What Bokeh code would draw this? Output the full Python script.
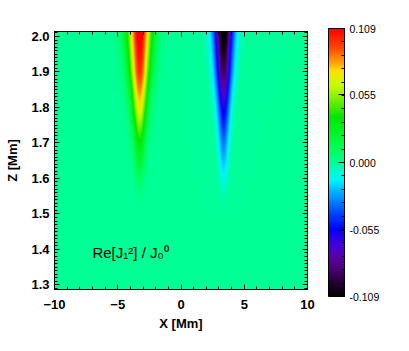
import numpy as np
from bokeh.plotting import figure
from bokeh.models import (Range1d, LinearAxis, SingleIntervalTicker, PrintfTickFormatter,
                          LinearColorMapper, ColorBar, FixedTicker, Label, CustomJSTickFormatter)
from bokeh.embed import file_html
from bokeh.resources import INLINE

# ---------------- data ----------------
x_extent = [-10.0, 10.0]
z_extent = [1.287, 2.014]
cbar_ticks = [-0.109, -0.055, 0.0, 0.055, 0.109]
cbar_limits = [-0.109, 0.109]

pos_center = -3.28          # Mm, positive (red) lobe
neg_center = 3.37           # Mm, negative (black) lobe
z_knots = [1.287, 1.50, 1.55, 1.60, 1.70, 1.80, 1.90, 2.00, 2.014]
pos_amp = [0.0, 0.0, 0.002, 0.010, 0.035, 0.072, 0.100, 0.114, 0.116]
neg_amp = [0.0, 0.0, -0.003, -0.012, -0.033, -0.060, -0.092, -0.114, -0.116]
pos_width = [0.15, 0.24, 0.30, 0.38, 0.46, 0.58, 0.76, 0.90, 0.92]
neg_width = [0.12, 0.20, 0.26, 0.33, 0.40, 0.50, 0.62, 0.72, 0.74]
profile_power = 1.8

# ---------------- field ----------------
nx, nz = 500, 360
xs = np.linspace(x_extent[0], x_extent[1], nx)
zs = np.linspace(z_extent[0], z_extent[1], nz)
X, Z = np.meshgrid(xs, zs)
A_p = np.interp(Z, z_knots, pos_amp)
A_n = np.interp(Z, z_knots, neg_amp)
W_p = np.interp(Z, z_knots, pos_width)
W_n = np.interp(Z, z_knots, neg_width)
field = (A_p * np.exp(-(np.abs(X - pos_center) / W_p) ** profile_power)
         + A_n * np.exp(-(np.abs(X - neg_center) / W_n) ** profile_power))

# ---------------- colour table (IDL-like rainbow) ----------------
anchors = [
    (0.000, 0, 0, 0), (0.050, 35, 0, 50), (0.100, 75, 0, 115), (0.150, 90, 0, 170),
    (0.200, 60, 0, 225), (0.250, 0, 0, 255), (0.310, 0, 70, 255), (0.385, 0, 170, 255),
    (0.435, 0, 245, 255), (0.500, 0, 255, 150), (0.540, 0, 255, 100), (0.610, 0, 245, 40),
    (0.670, 0, 230, 0), (0.735, 120, 240, 0), (0.790, 200, 250, 0), (0.845, 255, 225, 0),
    (0.880, 255, 150, 0), (0.930, 255, 70, 0), (1.000, 255, 0, 0)]
af = [a[0] for a in anchors]
t = np.linspace(0, 1, 256)
rr = np.interp(t, af, [a[1] for a in anchors])
gg = np.interp(t, af, [a[2] for a in anchors])
bb = np.interp(t, af, [a[3] for a in anchors])
palette = ["#%02x%02x%02x" % (int(round(r)), int(round(g)), int(round(b))) for r, g, b in zip(rr, gg, bb)]
mapper = LinearColorMapper(palette=palette, low=cbar_limits[0], high=cbar_limits[1])

# ---------------- figure ----------------
FW, FH = 253, 258
p = figure(frame_width=FW, frame_height=FH, x_range=Range1d(*x_extent), y_range=Range1d(*z_extent),
           output_backend="svg", toolbar_location=None,
           min_border_left=54, min_border_right=102, min_border_top=31, min_border_bottom=62,
           x_axis_label="X [Mm]", y_axis_label="Z [Mm]")
p.grid.visible = False
p.outline_line_color = "black"
p.outline_line_width = 1
p.background_fill_color = "white"

p.image(image=[field], x=x_extent[0], y=z_extent[0], dw=x_extent[1] - x_extent[0],
        dh=z_extent[1] - z_extent[0], color_mapper=mapper)

font = "Liberation Sans"
for ax in p.xaxis:
    ax.ticker = SingleIntervalTicker(interval=5, num_minor_ticks=5)
for ax in p.yaxis:
    ax.ticker = SingleIntervalTicker(interval=0.1, num_minor_ticks=10)
    ax.formatter = PrintfTickFormatter(format="%.1f")


def style(ax, show):
    ax.major_tick_in = 5
    ax.major_tick_out = 0
    ax.minor_tick_in = 3
    ax.minor_tick_out = 0
    ax.axis_line_color = "black"
    ax.major_tick_line_color = "black"
    ax.minor_tick_line_color = "black"
    ax.major_label_text_font = font
    ax.major_label_text_font_style = "bold"
    ax.major_label_text_color = "black"
    ax.major_label_text_font_size = "13px"
    ax.axis_label_text_font = font
    ax.axis_label_text_font_style = "bold"
    ax.axis_label_text_font_size = "13px"
    ax.axis_label_text_color = "black"
    if not show:
        ax.formatter = CustomJSTickFormatter(code="return ''")
        ax.major_label_standoff = 0


style(p.xaxis[0], True)
style(p.yaxis[0], True)
p.xaxis[0].major_label_standoff = 10
p.xaxis[0].axis_label_standoff = 4
p.yaxis[0].major_label_standoff = 5
p.yaxis[0].axis_label_standoff = 8

top = LinearAxis(ticker=SingleIntervalTicker(interval=5, num_minor_ticks=5))
right = LinearAxis(ticker=SingleIntervalTicker(interval=0.1, num_minor_ticks=10))
style(top, False)
style(right, False)
p.add_layout(top, "above")
p.add_layout(right, "right")

# annotation inside the plot
p.add_layout(Label(x=-7.0, y=1.39, text="Re[J\u2081\u00b2] / J\u2080\u2070", text_font=font,
                   text_font_size="15px", text_color="black", text_baseline="alphabetic"))

# colour bar
minor = [round(cbar_limits[0] + 0.0109 * k, 4) for k in range(21)]
cb = ColorBar(color_mapper=mapper, ticker=FixedTicker(ticks=cbar_ticks, minor_ticks=minor),
              formatter=PrintfTickFormatter(format="%.3f"), width=16, height=268,
              location=(FW + 21, -7), padding=0, margin=0, label_standoff=5,
              major_label_text_font=font, major_label_text_font_size="10.5px",
              major_label_text_color="black",
              bar_line_color="black", major_tick_line_color="black", minor_tick_line_color="black",
              major_tick_in=6, minor_tick_in=3, background_fill_alpha=0, border_line_color=None)
p.add_layout(cb)

p.add_layout(Label(x=FW + 86, y=FH / 2 - 2, x_units="screen", y_units="screen",
                   text="Re[J\u2081\u00b2] / J\u2080\u2070", angle=np.pi / 2,
                   text_align="center", text_baseline="middle", text_font=font,
                   text_font_size="11px", text_color="black"))

open("out.html", "w").write(file_html(p, INLINE))
